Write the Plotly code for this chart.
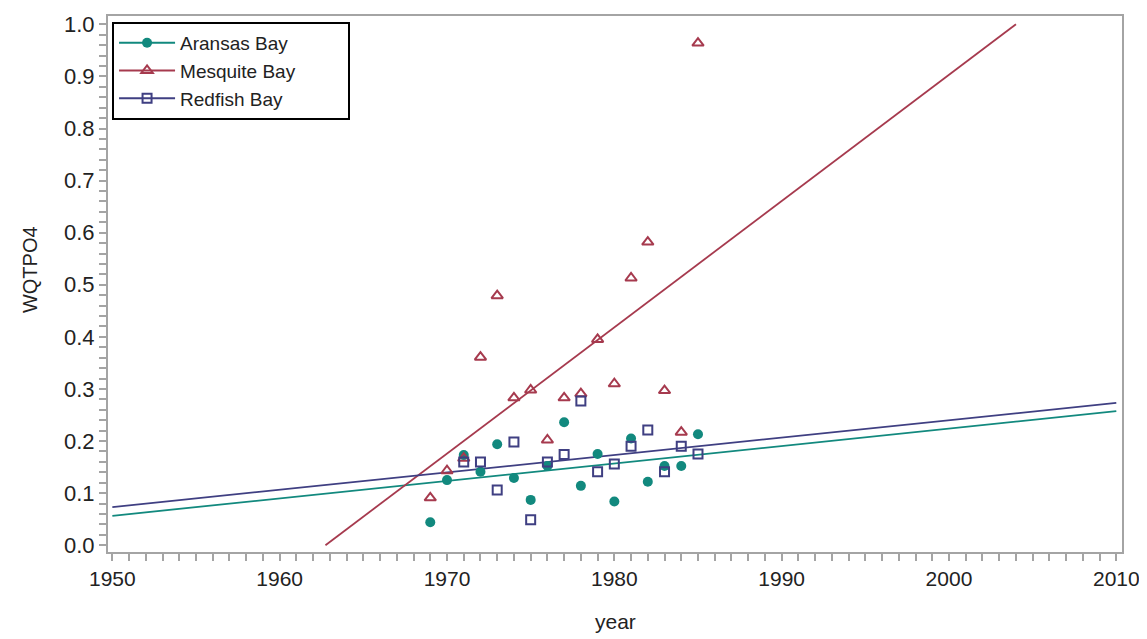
import numpy as np
import plotly.graph_objects as go

# ---- data ----
years_aransas = list(range(1969, 1986))
aransas = [0.044, 0.125, 0.173, 0.141, 0.194, 0.129, 0.087, 0.152, 0.236,
           0.114, 0.175, 0.084, 0.205, 0.122, 0.152, 0.152, 0.213]

years_mesquite = list(range(1969, 1986))
mesquite = [0.091, 0.143, 0.167, 0.361, 0.479, 0.283, 0.298, 0.202, 0.283,
            0.291, 0.395, 0.310, 0.513, 0.582, 0.297, 0.217, 0.964]

years_redfish = list(range(1971, 1986))
redfish = [0.160, 0.160, 0.106, 0.198, 0.049, 0.160, 0.174, 0.277, 0.141,
           0.156, 0.190, 0.221, 0.141, 0.190, 0.175]

series_names = ["Aransas Bay", "Mesquite Bay", "Redfish Bay"]
x_ticks = [1950, 1960, 1970, 1980, 1990, 2000, 2010]

# ---- styles ----
C_TEAL = "#12897E"
C_RED = "#A63A4E"
C_NAVY = "#3F3F82"
FRAME = "#A4A4A4"
FONT = "Liberation Sans, Arial, sans-serif"
TXT = "#222222"

styles = [
    dict(color=C_TEAL, symbol="circle", size=10, lw=0),
    dict(color=C_RED, symbol="triangle-up-open", size=10, lw=2),
    dict(color=C_NAVY, symbol="square-open", size=9, lw=2),
]

XLO, XHI = 1950, 2010
YLO, YHI = 0.0, 1.0


def fit_segment(x, y):
    b, a = np.polyfit(np.asarray(x, float), np.asarray(y, float), 1)
    x0, x1 = XLO, XHI
    if b != 0:
        xa, xb = (YLO - a) / b, (YHI - a) / b
        lo, hi = min(xa, xb), max(xa, xb)
        x0, x1 = max(x0, lo), min(x1, hi)
    return [x0, x1], [a + b * x0, a + b * x1]


fig = go.Figure()
datasets = [(years_aransas, aransas), (years_mesquite, mesquite), (years_redfish, redfish)]

for (xs, ys), name, st in zip(datasets, series_names, styles):
    lx, ly = fit_segment(xs, ys)
    fig.add_trace(go.Scatter(x=lx, y=ly, mode="lines", showlegend=False,
                             line=dict(color=st["color"], width=1.8), hoverinfo="skip"))

for (xs, ys), name, st in zip(datasets, series_names, styles):
    fig.add_trace(go.Scatter(
        x=xs, y=ys, mode="markers", showlegend=False, name=name,
        marker=dict(color=st["color"], symbol=st["symbol"], size=st["size"],
                    line=dict(width=st["lw"], color=st["color"]))))

# legend entries (line + marker)
PAD = "\u00a0" * 9
for name, st in zip(series_names, styles):
    fig.add_trace(go.Scatter(
        x=[None], y=[None], mode="lines+markers", name=name + PAD,
        line=dict(color=st["color"], width=2),
        marker=dict(color=st["color"], symbol=st["symbol"], size=st["size"],
                    line=dict(width=st["lw"], color=st["color"]))))

axis_common = dict(
    showline=True, linecolor=FRAME, linewidth=2, mirror=True,
    ticks="outside", ticklen=7, tickwidth=1.5, tickcolor=FRAME,
    showgrid=False, zeroline=False,
)

# the page body has an 8px margin, so the figure is 8px smaller and shifted
fig.update_layout(
    width=1139, height=631,
    margin=dict(l=100, r=25, t=4, b=87),
    paper_bgcolor="white", plot_bgcolor="white",
    font=dict(family=FONT, color=TXT),
    xaxis=dict(range=[1949.74, 2010.34], tickvals=x_ticks,
               tickfont=dict(family=FONT, size=21, color=TXT),
               minor=dict(dtick=1, ticks="outside", ticklen=7, tickwidth=1.5, tickcolor=FRAME),
               **axis_common),
    yaxis=dict(range=[-0.013, 1.016], dtick=0.1, tick0=0, tickformat=".1f",
               tickfont=dict(family=FONT, size=22, color=TXT),
               minor=dict(dtick=0.02, ticks="outside", ticklen=7, tickwidth=1.5, tickcolor=FRAME),
               **axis_common),
    legend=dict(x=0.004, y=0.989, xanchor="left", yanchor="top",
                bgcolor="white", bordercolor="black", borderwidth=2,
                font=dict(family=FONT, size=19, color=TXT),
                itemwidth=56, tracegroupgap=0),
    annotations=[
        dict(text="year", xref="paper", yref="paper", x=0.5, y=-0.1296,
             xanchor="center", yanchor="middle", showarrow=False,
             font=dict(family=FONT, size=21, color=TXT)),
        dict(text="WQTPO4", xref="paper", yref="paper", x=(30 - 108) / 1014, y=0.526,
             xanchor="center", yanchor="middle", textangle=-90, showarrow=False,
             font=dict(family=FONT, size=20, color=TXT)),
    ],
)

fig.write_html("out.html")
